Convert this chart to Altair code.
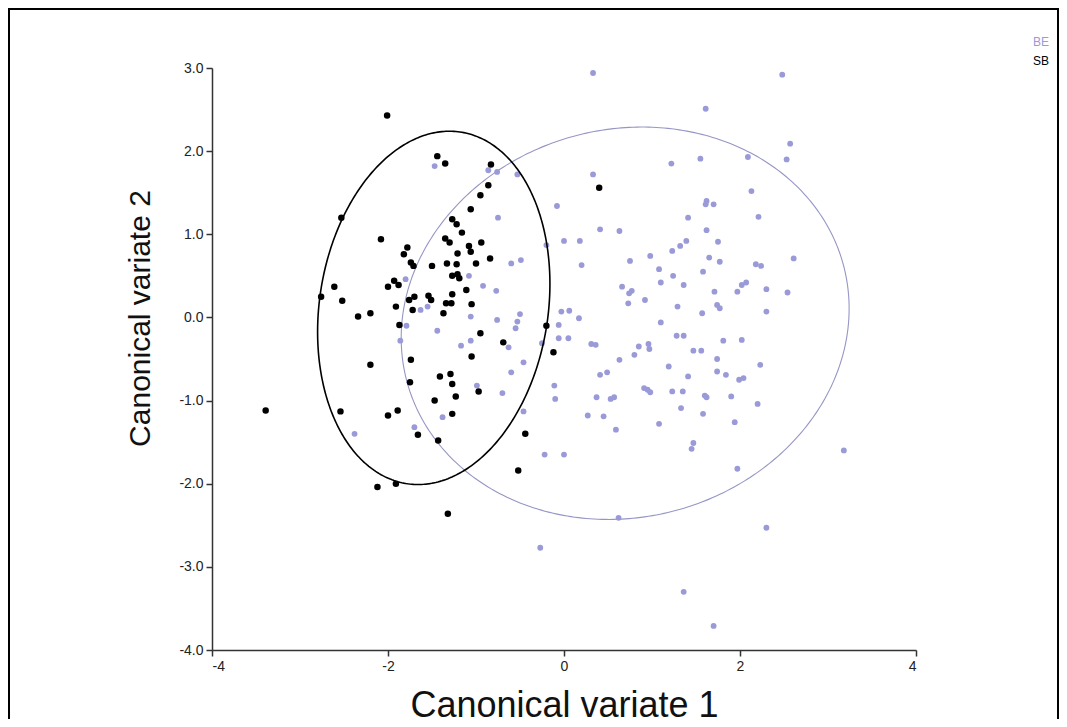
import numpy as np
import pandas as pd
import altair as alt

groups = ["BE", "SB"]
point_colors = ["#9a9ad8", "#000000"]
ellipse_colors = ["#9696c6", "#000000"]

# SB group (black)
sb_x = [-2.01, -1.44, -1.35, -0.83, -0.86, -0.95, -1.06, -2.53, -1.27, -1.22,
        -1.16, -2.08, -1.35, -1.30, -0.94, -1.78, -1.82, -1.21, -1.08, -1.06,
        -0.84, -1.74, -1.71, -1.50, -1.33, -1.22, -1.00, -1.27, -1.21, -1.19,
        -2.76, -2.61, -2.52, -2.34, -2.20, -2.00, -1.93, -1.88, -1.91, -1.76,
        -1.70, -1.72, -1.54, -1.51, -1.37, -1.34, -1.28, -1.27, -1.11, -1.05,
        -1.87, -0.20, -0.95, -0.69, -0.12, -2.20, -1.74, -1.05, -1.41, -1.29,
        -1.75, -1.27, -0.97, -1.23, -1.47, -3.39, -2.54, -2.00, -1.89, -1.27,
        -1.66, -1.43, -0.44, -0.52, -2.12, -1.91, -1.32, 0.40]
sb_y = [2.43, 1.94, 1.85, 1.84, 1.59, 1.47, 1.30, 1.20, 1.18, 1.12,
        1.02, 0.94, 0.95, 0.90, 0.90, 0.84, 0.76, 0.77, 0.86, 0.79,
        0.71, 0.66, 0.62, 0.62, 0.65, 0.64, 0.65, 0.50, 0.52, 0.47,
        0.25, 0.37, 0.20, 0.01, 0.05, 0.37, 0.44, 0.39, 0.13, 0.21,
        0.25, 0.09, 0.26, 0.21, 0.05, 0.17, 0.17, 0.28, 0.33, 0.16,
        -0.09, -0.10, -0.19, -0.30, -0.42, -0.57, -0.51, -0.47, -0.71, -0.68,
        -0.78, -0.80, -0.89, -0.95, -1.00, -1.12, -1.13, -1.18, -1.12, -1.16,
        -1.41, -1.48, -1.40, -1.84, -2.04, -2.00, -2.36, 1.56]

# BE group (lavender)
be_x = [-1.47, -0.86, -0.76, -0.53, -0.08, -0.75, 0.00, 0.18, -0.20, -0.60,
        -0.49, 0.20, -1.80, -1.08, -0.92, -0.77, -1.63, -1.55, -1.44, -1.79,
        -1.86, -1.06, -0.76, -0.50, -0.53, -0.55, -1.17, -1.06, -0.63, -0.25,
        -0.03, 0.06, 0.17, -0.06, -0.06, 0.05, 0.31, 0.33, 0.33,
        -2.38, -1.70, -1.38, -0.99,
        -0.70, -0.60, -0.46, -0.46, -0.11, -0.10, -0.22, 0.00, -0.27, 0.63,
        0.41, 0.49, 0.37, 0.27, 0.45, 0.53, 0.57, 0.59, 0.80, 0.91,
        0.95, 0.98, 1.08, 1.19, 1.23, 1.35, 1.33, 1.41, 1.47, 1.45,
        1.47, 1.56, 1.58, 1.60, 1.62, 1.74, 1.74, 1.84, 1.90, 1.94,
        1.99, 2.04, 1.97, 2.23, 2.20, 3.18, 2.30, 0.62, 1.36, 1.70,
        2.48, 1.61, 2.57, 2.53, 1.22, 1.55, 2.09, 2.13, 1.62, 1.61,
        1.70, 1.41, 2.21, 0.41, 0.63, 1.62, 1.39, 1.23, 1.32, 1.75,
        0.98, 0.75, 1.65, 1.77, 2.61, 2.18, 2.24, 1.08, 1.58, 1.24,
        1.10, 1.36, 0.66, 0.77, 0.74, 1.71, 1.97, 2.02, 2.07, 2.30,
        2.54, 0.73, 0.92, 1.29, 1.57, 1.74, 1.77, 2.30, 1.10, 1.28,
        1.36, 1.81, 2.02, 0.85, 0.96, 0.97, 0.36]
be_y = [1.82, 1.77, 1.75, 1.72, 1.34, 1.20, 0.92, 0.92, 0.87, 0.65,
        0.69, 0.63, 0.46, 0.50, 0.38, 0.32, 0.09, 0.13, -0.16, -0.10,
        -0.28, 0.01, -0.03, 0.04, -0.05, -0.13, -0.34, -0.28, -0.36, -0.31,
        0.07, 0.08, -0.01, -0.09, -0.25, -0.25, -0.32, 2.94, 1.72,
        -1.40, -1.32, -1.20, -0.82,
        -0.91, -0.66, -0.54, -1.13, -0.82, -0.98, -1.65, -1.65, -2.77, -0.51,
        -0.69, -0.66, -0.96, -1.18, -1.19, -0.98, -0.96, -1.35, -0.45, -0.85,
        -0.87, -0.90, -1.28, -0.59, -0.89, -0.89, -1.09, -0.71, -1.51, -1.58,
        -0.40, -0.40, -1.16, -0.94, -0.96, -0.50, -0.65, -0.69, -0.95, -1.26,
        -0.75, -0.73, -1.82, -0.57, -1.04, -1.60, -2.53, -2.41, -3.30, -3.71,
        2.92, 2.51, 2.09, 1.90, 1.85, 1.91, 1.93, 1.52, 1.40, 1.36,
        1.36, 1.20, 1.21, 1.06, 1.04, 1.05, 0.92, 0.80, 0.86, 0.91,
        0.74, 0.68, 0.72, 0.67, 0.71, 0.64, 0.62, 0.58, 0.55, 0.50,
        0.42, 0.39, 0.37, 0.32, 0.29, 0.31, 0.31, 0.39, 0.42, 0.34,
        0.30, 0.17, 0.21, 0.13, 0.05, 0.15, 0.11, 0.07, -0.06, -0.22,
        -0.22, -0.28, -0.27, -0.35, -0.32, -0.38, -0.33]

# confidence ellipses: centre and Cholesky factors (l11, l21, l22)
ellipse_center = {"BE": (0.695, -0.07), "SB": (-1.48, 0.115)}
ellipse_factor = {"BE": (2.545, 0.177, 2.353), "SB": (1.32, 0.288, 2.105)}

x_ticks = [-4, -2, 0, 2, 4]
y_ticks = [-4, -3, -2, -1, 0, 1, 2, 3]
x_title = "Canonical variate 1"
y_title = "Canonical variate 2"

FONT = "Liberation Sans"
W, H = 704, 582
HYPHEN = "replace(datum.label, '\u2212', '-')"

df_sb = pd.DataFrame({"x": sb_x, "y": sb_y, "g": "SB"})
df_be = pd.DataFrame({"x": be_x, "y": be_y, "g": "BE"})


def ellipse_frame(g):
    cx, cy = ellipse_center[g]
    l11, l21, l22 = ellipse_factor[g]
    t = np.linspace(0, 2 * np.pi, 361)
    return pd.DataFrame({
        "x": cx + l11 * np.cos(t),
        "y": cy + l21 * np.cos(t) + l22 * np.sin(t),
        "i": np.arange(len(t)),
    })


xs = alt.Scale(domain=[-4, 4], nice=False, zero=False)
ys = alt.Scale(domain=[-4, 3], nice=False, zero=False)
xax = alt.Axis(values=x_ticks, format="d", labelExpr=HYPHEN, grid=False, tickSize=6,
               labelPadding=3, title=x_title, titleY=66, titleFontSize=36,
               titleBaseline="alphabetic")
yax = alt.Axis(values=y_ticks, format=".1f", labelExpr=HYPHEN, grid=False, tickSize=6,
               labelPadding=3, title=y_title, titleX=-72, titleY=250,
               titleFontSize=30, titleAngle=270, titleAlign="center",
               titleBaseline="middle")
X = alt.X("x:Q", scale=xs, axis=xax)
Y = alt.Y("y:Q", scale=ys, axis=yax)

frame = alt.Chart(pd.DataFrame({"a": [0]})).mark_rect(
    fillOpacity=0, stroke="#000000", strokeWidth=2
).encode(x=alt.value(-203), x2=alt.value(846), y=alt.value(-59), y2=alt.value(800))

ell_be = alt.Chart(ellipse_frame("BE")).mark_line(
    color=ellipse_colors[0], strokeWidth=1.1).encode(x=X, y=Y, order="i:Q")
ell_sb = alt.Chart(ellipse_frame("SB")).mark_line(
    color=ellipse_colors[1], strokeWidth=1.6).encode(x=X, y=Y, order="i:Q")

pts_be = alt.Chart(df_be).mark_circle(size=34, opacity=1, color=point_colors[0]).encode(x=X, y=Y)
pts_sb = alt.Chart(df_sb).mark_circle(size=42, opacity=1, color=point_colors[1]).encode(x=X, y=Y)

legend_layers = []
for i, g in enumerate(groups):
    legend_layers.append(
        alt.Chart(pd.DataFrame({"label": [g]})).mark_text(
            align="left", baseline="middle", fontSize=12, font=FONT,
            color=point_colors[i]
        ).encode(x=alt.value(821), y=alt.value(-26 + 19 * i), text="label:N")
    )

chart = alt.layer(frame, ell_be, pts_be, ell_sb, pts_sb, *legend_layers).properties(
    width=W, height=H,
    padding={"left": 204, "top": 60, "right": 143, "bottom": 69},
    autosize=alt.AutoSizeParams(type="none"),
    background="white",
).configure_view(stroke=None).configure_axis(
    domainColor="#333333", domainWidth=1.5, tickColor="#333333", tickWidth=1.5,
    labelColor="#222222", labelFontSize=14, labelFont=FONT,
    titleFont=FONT, titleFontWeight="normal", titleColor="#111111",
)

chart.save("out.html", embed_options={"renderer": "svg", "actions": False})
